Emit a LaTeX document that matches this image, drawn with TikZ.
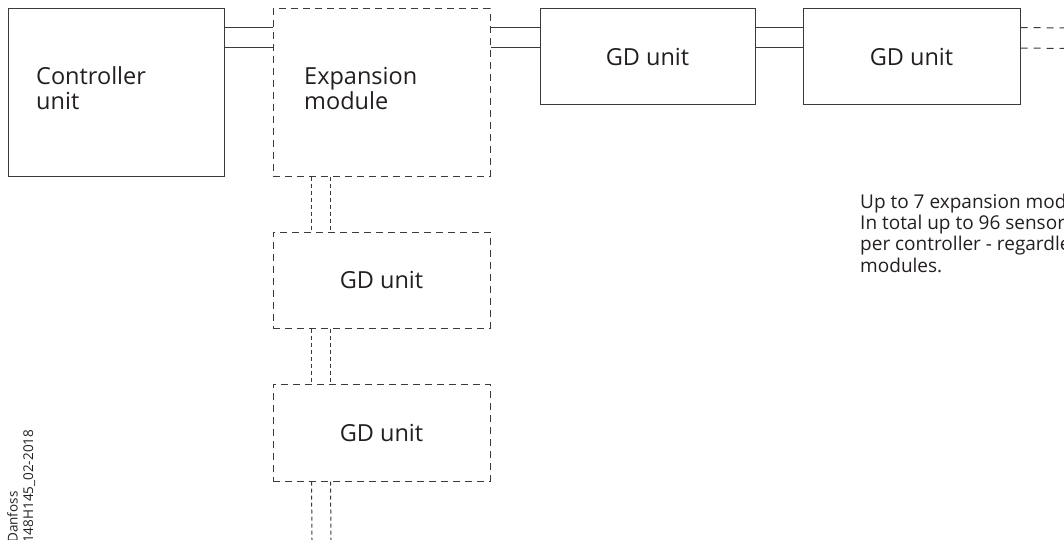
\documentclass[tikz,border=0pt]{standalone}
\usepackage{fontspec}
\setmainfont{Open Sans}
\definecolor{ink}{HTML}{3A3A3A}
\definecolor{txt}{HTML}{231F20}
\newcommand\boxfont{\fontsize{23.5}{25}\selectfont}
\newcommand\notefont{\fontsize{19}{21.3}\selectfont}
\newcommand\tagfont{\fontsize{13.5}{15.5}\selectfont}
\tikzset{
  unitbox/.style={draw=ink, line width=1pt, inner sep=0pt, text=txt, font=\boxfont},
  dashbox/.style={unitbox, dash pattern=on 7pt off 5pt},
  wire/.style={draw=ink, line width=1pt},
  dwire/.style={wire, dash pattern=on 4pt off 3pt},
  ewire/.style={wire, dash pattern=on 7pt off 6pt},
  lbl/.style={inner sep=0pt, text=txt, align=left},
}
\begin{document}
\begin{tikzpicture}[x=1pt, y=-1pt]
\useasboundingbox (0,0) rectangle (1064,540);
\clip (0,0) rectangle (1064,540);
% boxes
\node[unitbox, minimum width=216pt, minimum height=167pt] (ctrl) at (116,92.5) {};
\node[dashbox, minimum width=217pt, minimum height=167pt] (exp) at (381.5,92.5) {};
\node[unitbox, minimum width=215pt, minimum height=96pt] (gd1) at (647.5,57) {GD unit};
\node[unitbox, minimum width=217pt, minimum height=96pt] (gd2) at (911.5,57) {GD unit};
\node[dashbox, minimum width=217pt, minimum height=96pt] (gd3) at (381.5,280) {GD unit};
\node[dashbox, minimum width=217pt, minimum height=97pt] (gd4) at (381.5,432.5) {GD unit};
% labels (base anchor = baseline of the last line)
\node[lbl, font=\boxfont, anchor=base west] (ctrltxt) at (36,110) {Controller\\unit};
\node[lbl, font=\boxfont, anchor=base west] (exptxt) at (304,110) {Expansion\\module};
\node[lbl, font=\notefont, anchor=base west] (note) at (860,272) {Up to 7 expansion modules.\\In total up to 96 sensors\\per controller - regardless of\\modules.};
\node[lbl, font=\tagfont, rotate=90, anchor=north west] (tag) at (7,543) {Danfoss\\148H145\_02-2018};
% free ends
\coordinate (rt1) at (1064,28);
\coordinate (rt2) at (1064,48.5);
\coordinate (bt1) at (312,540);
\coordinate (bt2) at (331,540);
% horizontal double wires
\draw[wire] ([yshift=-19pt]ctrl.north east) -- ([yshift=-19pt]exp.north west);
\draw[wire] ([yshift=-39.5pt]ctrl.north east) -- ([yshift=-39.5pt]exp.north west);
\draw[wire] ([yshift=-19pt]exp.north east) -- ([yshift=-19pt]gd1.north west);
\draw[wire] ([yshift=-39.5pt]exp.north east) -- ([yshift=-39.5pt]gd1.north west);
\draw[wire] ([yshift=-19pt]gd1.north east) -- ([yshift=-19pt]gd2.north west);
\draw[wire] ([yshift=-39.5pt]gd1.north east) -- ([yshift=-39.5pt]gd2.north west);
\draw[ewire] ([yshift=-19pt]gd2.north east) -- (rt1);
\draw[ewire] ([yshift=-39.5pt]gd2.north east) -- (rt2);
% vertical dashed double wires
\draw[dwire] ([xshift=39pt]exp.south west) -- ([xshift=39pt]gd3.north west);
\draw[dwire] ([xshift=58pt]exp.south west) -- ([xshift=58pt]gd3.north west);
\draw[dwire] ([xshift=39pt]gd3.south west) -- ([xshift=39pt]gd4.north west);
\draw[dwire] ([xshift=58pt]gd3.south west) -- ([xshift=58pt]gd4.north west);
\draw[dwire] ([xshift=39pt]gd4.south west) -- (bt1);
\draw[dwire] ([xshift=58pt]gd4.south west) -- (bt2);
\end{tikzpicture}
\end{document}
